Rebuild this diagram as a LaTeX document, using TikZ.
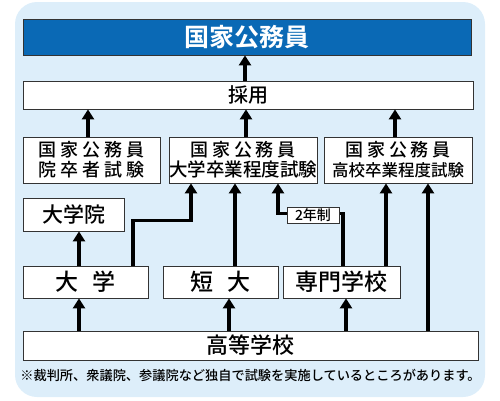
\documentclass[tikz,border=0pt]{standalone}
\usepackage{fontspec}
\setmainfont{Noto Sans CJK JP}[UprightFont={* Medium}, BoldFont={* Bold}]
\usepackage{xcolor}
\usepackage{tikz}
\usetikzlibrary{arrows.meta,positioning}

\definecolor{bgblue}{HTML}{DDEEFA}
\definecolor{topblue}{HTML}{0A69B5}
\definecolor{boxline}{HTML}{333333}
\newcommand{\wide}[1]{{\addfontfeatures{LetterSpace=22}#1}}

\begin{document}
\begin{tikzpicture}[x=1pt,y=-1pt,box/.style={draw=boxline, line width=0.8pt, fill=white, inner sep=0pt, align=center}]
        \tikzstyle{arr} = [line width=3.2pt, -{Triangle[width=12pt,length=10pt]}]
        \useasboundingbox (0,0) rectangle (500,400);
        \fill[bgblue, rounded corners=22pt] (15,2) rectangle (485,397);

        \node[box, fill=topblue, minimum width=448pt, minimum height=36pt, text=white, font=\fontsize{25}{28}\selectfont\bfseries] (top) at (247,37) {国家公務員};
        \node[box, minimum width=450pt, minimum height=28pt, font=\fontsize{20}{22}\selectfont] (saiyo) at (248,95) {採用};
        \node[box, minimum width=137pt, minimum height=46pt, font=\fontsize{18}{20}\selectfont] (ex1) at (91.5,160) {\wide{国家公務員}\\\wide{院卒者試験}};
        \node[box, minimum width=148pt, minimum height=46pt, font=\fontsize{18}{20}\selectfont] (ex2) at (243,160) {\wide{国家公務員}\\{\fontsize{18.5}{20}\selectfont 大学卒業程度試験}};
        \node[box, minimum width=148pt, minimum height=46pt, font=\fontsize{18}{20}\selectfont] (ex3) at (398,160) {\wide{国家公務員}\\{\fontsize{16.5}{20}\selectfont 高校卒業程度試験}};
        \node[box, minimum width=101pt, minimum height=33pt, font=\fontsize{21}{24}\selectfont] (inn) at (73.5,214.5) {大学院};
        \node[box, minimum width=125pt, minimum height=32pt, font=\fontsize{23}{26}\selectfont] (univ) at (85.5,282) {大\hspace{0.65em}学};
        \node[box, minimum width=115pt, minimum height=32pt, font=\fontsize{23}{26}\selectfont] (tandai) at (220.5,282) {短\hspace{0.65em}大};
        \node[box, minimum width=117pt, minimum height=32pt, font=\fontsize{23}{26}\selectfont] (senmon) at (341.5,282) {専門学校};
        \node[box, minimum width=455pt, minimum height=29pt, font=\fontsize{22}{24}\selectfont] (koukou) at (250.5,345.5) {高等学校};
        \node[font=\fontsize{13.2}{15}\selectfont, inner sep=0pt] (note) at (250.5,375) {※裁判所、衆議院、参議院など独自で試験を実施しているところがあります。};

        \draw [arr] ([xshift=-3pt]saiyo.north) -- ([xshift=-3pt]saiyo.north |- top.south);
        \draw [arr] ([xshift=-3.5pt]ex1.north) -- ([xshift=-3.5pt]ex1.north |- saiyo.south);
        \draw [arr] ([xshift=3pt]ex2.north) -- ([xshift=3pt]ex2.north |- saiyo.south);
        \draw [arr] ([xshift=-3pt]ex3.north) -- ([xshift=-3pt]ex3.north |- saiyo.south);
        \draw [arr] ([xshift=5.5pt]inn.south |- univ.north) -- ([xshift=5.5pt]inn.south);
        \draw [arr] ([xshift=47.5pt]univ.north) |- ([xshift=-52pt,yshift=-37pt]ex2.south) -- ([xshift=-52pt]ex2.south);
        \draw [arr] ([xshift=-8pt]ex2.south |- tandai.north) -- ([xshift=-8pt]ex2.south);
        \draw [arr] ([xshift=1.5pt]senmon.north) |- ([xshift=35pt,yshift=-30pt]ex2.south) -- ([xshift=35pt]ex2.south);
        \draw [arr] ([xshift=-12pt]ex3.south |- senmon.north) -- ([xshift=-12pt]ex3.south);
        \draw [arr] ([xshift=30pt]ex3.south |- koukou.north) -- ([xshift=30pt]ex3.south);
        \draw [arr] ([xshift=-6.5pt]univ.south |- koukou.north) -- ([xshift=-6.5pt]univ.south);
        \draw [arr] ([xshift=8.5pt]tandai.south |- koukou.north) -- ([xshift=8.5pt]tandai.south);
        \draw [arr] ([xshift=4.5pt]senmon.south |- koukou.north) -- ([xshift=4.5pt]senmon.south);

        \node[box, minimum width=52pt, minimum height=16pt, font=\fontsize{14}{16}\selectfont] (nen) at (313,215) {2年制};
\end{tikzpicture}
\end{document}
